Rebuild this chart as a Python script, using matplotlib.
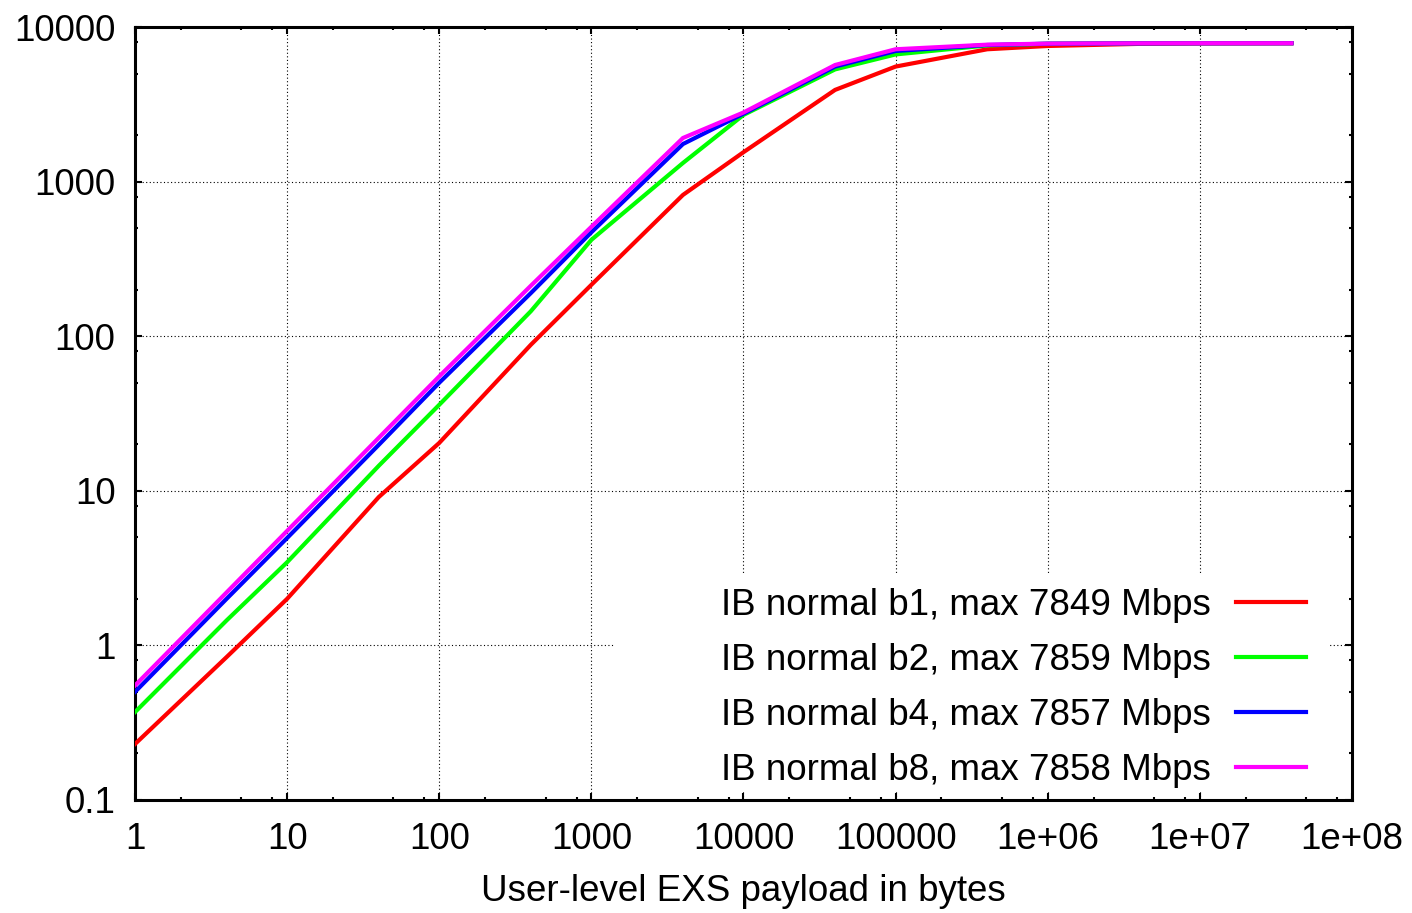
import matplotlib
matplotlib.use("Agg")
import matplotlib.pyplot as plt
from matplotlib.ticker import FixedLocator, LogLocator, NullFormatter
from matplotlib.patches import Rectangle

# payload sizes in bytes
payload = [1, 4, 10, 40, 100, 400, 1000, 4000, 10000, 40000, 100000,
           400000, 1e6, 4e6, 1e7, 4e7]

# throughput in Mbps
b1 = [0.23, 0.84, 2.0, 9.1, 20.4, 88, 215, 820, 1550, 3920, 5550,
      7180, 7540, 7780, 7830, 7849]
b2 = [0.37, 1.45, 3.45, 14.5, 36, 145, 420, 1320, 2700, 5320, 6650,
      7600, 7800, 7845, 7855, 7859]
b4 = [0.50, 2.0, 4.95, 19.8, 50, 190, 470, 1750, 2750, 5550, 7000,
      7650, 7800, 7840, 7850, 7857]
b8 = [0.55, 2.2, 5.5, 22, 55, 212, 510, 1915, 2800, 5680, 7180,
      7690, 7810, 7845, 7855, 7858]

series_labels = ["IB normal b1, max 7849 Mbps", "IB normal b2, max 7859 Mbps",
                 "IB normal b4, max 7857 Mbps", "IB normal b8, max 7858 Mbps"]
series_colors = ["#ff0000", "#00ff00", "#0000ff", "#ff00ff"]

xtick_vals = [1, 10, 100, 1000, 1e4, 1e5, 1e6, 1e7, 1e8]
xtick_labels = ["1", "10", "100", "1000", "10000", "100000", "1e+06", "1e+07", "1e+08"]
ytick_vals = [0.1, 1, 10, 100, 1000, 10000]
ytick_labels = ["0.1", "1", "10", "100", "1000", "10000"]


def plot_throughput():
    plt.rcParams["font.family"] = ["Liberation Sans", "DejaVu Sans"]
    fs = 26.5
    fig = plt.figure(figsize=(14.12, 9.13), dpi=100)
    ax = fig.add_axes([0.0956, 0.1238, 0.8619, 0.8466])

    for ys, lab, col in zip([b1, b2, b4, b8], series_labels, series_colors):
        ax.plot(payload, ys, color=col, lw=3.0, label=lab, zorder=3,
                solid_joinstyle="miter")

    ax.set_xscale("log")
    ax.set_yscale("log")
    ax.set_xlim(1, 1e8)
    ax.set_ylim(0.1, 10000)

    ax.xaxis.set_major_locator(FixedLocator(xtick_vals))
    ax.set_xticklabels(xtick_labels)
    ax.yaxis.set_major_locator(FixedLocator(ytick_vals))
    ax.set_yticklabels(ytick_labels)
    ax.xaxis.set_minor_locator(LogLocator(base=10, subs=(2, 5, 8), numticks=20))
    ax.yaxis.set_minor_locator(LogLocator(base=10, subs=(2, 5, 8), numticks=20))
    ax.xaxis.set_minor_formatter(NullFormatter())
    ax.yaxis.set_minor_formatter(NullFormatter())

    ax.tick_params(which="both", direction="in", top=True, right=True,
                   width=1.5, labelsize=fs)
    ax.tick_params(axis="x", which="major", length=5, pad=16)
    ax.tick_params(axis="y", which="major", length=5, pad=14)
    ax.tick_params(which="minor", length=2.5)

    ax.set_axisbelow(True)
    ax.grid(True, which="major", color="black", lw=0.8, linestyle=(0, (1, 2.2)))
    for sp in ax.spines.values():
        sp.set_linewidth(2.2)

    # opaque key box hiding the grid
    ax.add_patch(Rectangle((0.394, 0.012), 0.588, 0.279, transform=ax.transAxes,
                           facecolor="white", edgecolor="none", zorder=1))

    ax.set_xlabel("User-level EXS payload in bytes", fontsize=fs, labelpad=12)

    ax.legend(loc="lower right", bbox_to_anchor=(0.9745, -0.004), frameon=False,
              markerfirst=False, fontsize=fs, handlelength=1.9,
              handletextpad=0.68, labelspacing=0.55, borderaxespad=0)

    fig.savefig("out.png", dpi=100)


def main():
    plot_throughput()


if __name__ == "__main__":
    main()
